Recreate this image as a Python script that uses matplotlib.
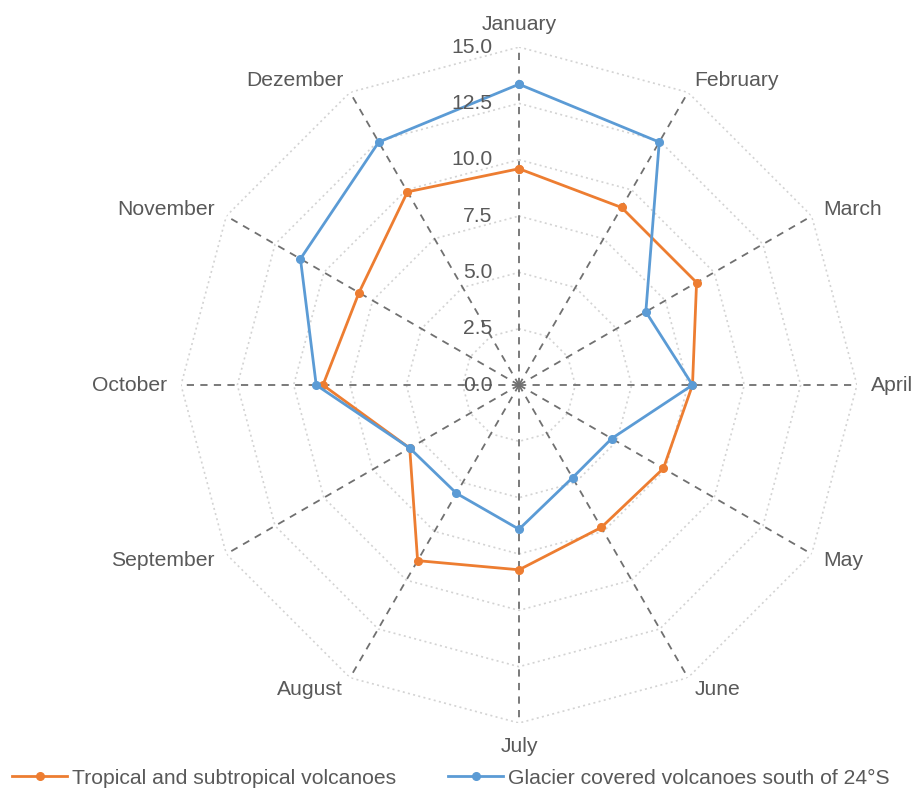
import numpy as np
import matplotlib
matplotlib.use("Agg")
import matplotlib.pyplot as plt

plt.rcParams['font.family'] = ['Liberation Sans', 'DejaVu Sans']

months = ["January", "February", "March", "April", "May", "June",
          "July", "August", "September", "October", "November", "Dezember"]
tropical = [9.6, 9.1, 9.1, 7.7, 7.4, 7.3, 8.2, 9.0, 5.6, 8.7, 8.2, 9.9]
glacier = [13.35, 12.45, 6.5, 7.7, 4.75, 4.75, 6.4, 5.55, 5.6, 9.0, 11.2, 12.45]
radial_ticks = [0.0, 2.5, 5.0, 7.5, 10.0, 12.5, 15.0]

text_color = "#595959"
orange = "#ED7D31"
blue = "#5B9BD5"
fs = 15.2

fig = plt.figure(figsize=(9.11, 7.92), dpi=100)
ax = fig.add_axes([0.1987, 0.0871, 0.742, 0.8535], projection="polar")
ax.set_theta_zero_location("N")
ax.set_theta_direction(-1)
ax.set_ylim(0, 15)
ax.set_axis_off()

n = len(months)
angles = np.linspace(0, 2 * np.pi, n, endpoint=False)
closed = np.append(angles, angles[0])

# polygon grid rings
for r in radial_ticks[1:]:
    ax.plot(closed, [r] * (n + 1), color="#d3d3d3", lw=1.2,
            linestyle=(0, (1.2, 2.0)), zorder=1)

# spokes
for a in angles:
    ax.plot([a, a], [0, 15], color="#707070", lw=1.3,
            linestyle=(0, (4, 3.5)), zorder=2)

# series
def closed_vals(v):
    return list(v) + [v[0]]

ax.plot(closed, closed_vals(tropical), color=orange, lw=2.0, marker="o",
        markersize=5.5, label="Tropical and subtropical volcanoes", zorder=3)
ax.plot(closed, closed_vals(glacier), color=blue, lw=2.0, marker="o",
        markersize=5.5, label="Glacier covered volcanoes south of 24\u00b0S", zorder=4)

# radial value labels along the first spoke
for r in radial_ticks:
    ax.annotate(f"{r:.1f}", xy=(0, r), xytext=(-19, 0), textcoords="offset points",
                ha="right", va="center", fontsize=fs, color=text_color, zorder=5)

# month labels
label_r = 15.6
for a, m in zip(angles, months):
    s = np.sin(a)
    c = np.cos(a)
    if abs(s) < 1e-6:
        ha = "center"
        va = "bottom" if c > 0 else "top"
    else:
        ha = "left" if s > 0 else "right"
        va = "center"
    ax.text(a, label_r, m, ha=ha, va=va, fontsize=fs, color=text_color)

fig.legend(loc="center", bbox_to_anchor=(451 / 911, 1 - 778 / 792), ncol=2,
           frameon=False, fontsize=fs, handlelength=2.6, columnspacing=2.45,
           handletextpad=0.25, labelcolor=text_color)

fig.savefig("out.png", dpi=100)
